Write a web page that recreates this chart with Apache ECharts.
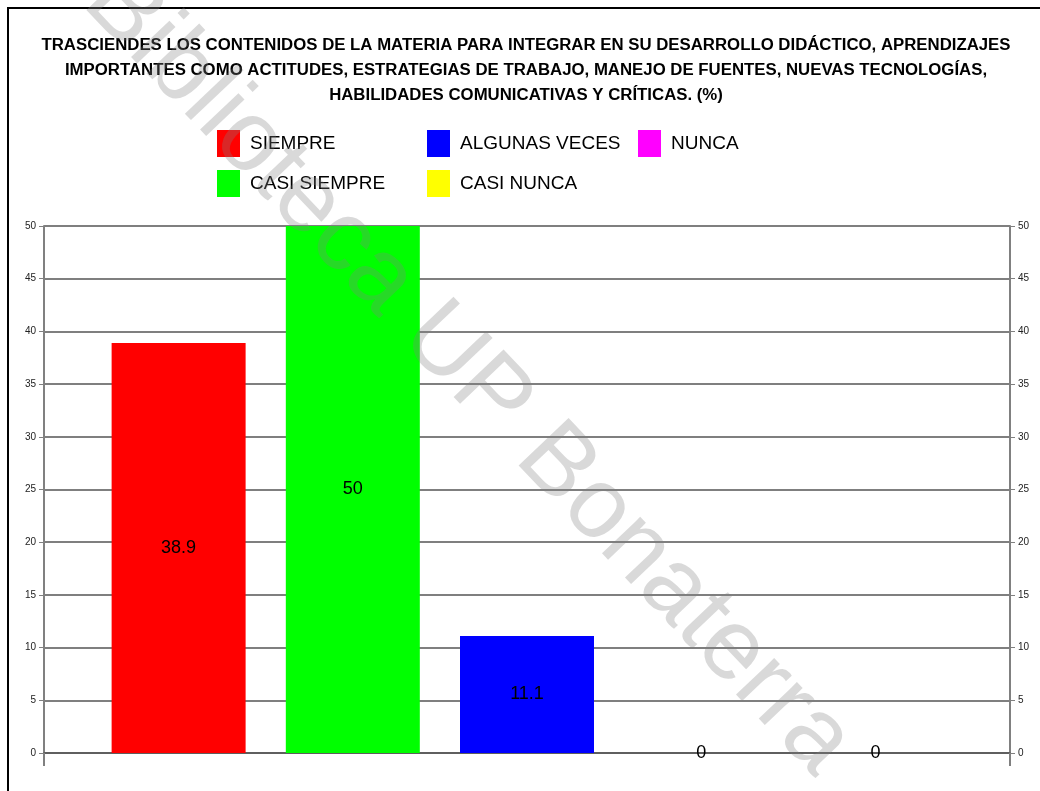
<!DOCTYPE html>
<html>
<head>
<meta charset="utf-8">
<script src="https://cdn.jsdelivr.net/npm/echarts@6/dist/echarts.min.js"></script>
<style>
  html, body { margin: 0; padding: 0; background: #fff; }
  #chart-target { width: 1040px; height: 791px; }
</style>
</head>
<body>
<div id="chart-target"></div>
<script>
  // datos del gráfico
  const categories = ['']
  const seriesNames = ['SIEMPRE', 'CASI SIEMPRE', 'ALGUNAS VECES', 'CASI NUNCA', 'NUNCA']
  const values = [38.9, 50, 11.1, 0, 0]
  const colors = ['#ff0000', '#00ff00', '#0000ff', '#ffff00', '#ff00ff']
  const yTicks = { min: 0, max: 50, interval: 5 }

  const font = 'Liberation Sans, Arial, sans-serif'

  // posiciones de la leyenda (2 filas, 3 columnas)
  const legendPos = [
    { left: 217, top: 130 },
    { left: 217, top: 170 },
    { left: 427, top: 130 },
    { left: 427, top: 170 },
    { left: 638, top: 130 }
  ]

  let myChart = echarts.init(document.getElementById('chart-target'))

  const yAxisBase = {
    type: 'value',
    min: yTicks.min,
    max: yTicks.max,
    interval: yTicks.interval,
    axisLine: { show: true, lineStyle: { color: '#808080', width: 2 } },
    axisTick: { show: true, length: 5, lineStyle: { color: '#808080' } },
    axisLabel: { fontFamily: font, fontSize: 10, color: '#222', margin: 8 }
  }

  myChart.setOption({
    animation: false,
    backgroundColor: '#fff',
    title: {
      text: 'TRASCIENDES LOS CONTENIDOS DE LA MATERIA PARA INTEGRAR EN SU DESARROLLO DIDÁCTICO, APRENDIZAJES\nIMPORTANTES COMO ACTITUDES, ESTRATEGIAS DE TRABAJO, MANEJO DE FUENTES, NUEVAS TECNOLOGÍAS,\nHABILIDADES COMUNICATIVAS Y CRÍTICAS. (%)',
      left: 526,
      textAlign: 'center',
      top: 33,
      padding: 0,
      textStyle: {
        fontFamily: font,
        fontSize: 16.8,
        fontWeight: 'bold',
        color: '#000',
        lineHeight: 25,
        align: 'center'
      }
    },
    legend: seriesNames.map((name, i) => ({
      data: [name],
      left: legendPos[i].left,
      top: legendPos[i].top,
      padding: 0,
      icon: 'rect',
      itemWidth: 23,
      itemHeight: 27,
      selectedMode: false,
      textStyle: { fontFamily: font, fontSize: 19, color: '#000', padding: [0, 0, 0, 5] }
    })),
    grid: { left: 44, right: 30, top: 226, bottom: 38 },
    xAxis: {
      type: 'category',
      data: categories,
      axisLine: { show: true, lineStyle: { color: '#555', width: 1.5 } },
      axisTick: { show: true, length: 13, interval: 0, lineStyle: { color: '#808080', width: 2 } },
      axisLabel: { show: false }
    },
    yAxis: [
      Object.assign({}, yAxisBase, {
        position: 'left',
        splitLine: { show: true, lineStyle: { color: '#555', width: 1.5 } }
      }),
      Object.assign({}, yAxisBase, {
        position: 'right',
        splitLine: { show: false }
      })
    ],
    series: seriesNames.map((name, i) => ({
      name: name,
      type: 'bar',
      data: [values[i]],
      barGap: '30%',
      barCategoryGap: '14%',
      itemStyle: { color: colors[i] },
      label: {
        show: true,
        position: 'inside',
        fontFamily: font,
        fontSize: 18,
        color: '#000'
      }
    })),
    graphic: [
      {
        type: 'rect',
        shape: { x: 8, y: 8, width: 1100, height: 900 },
        style: { fill: 'none', stroke: '#000', lineWidth: 2 },
        silent: true,
        z: 100
      },
      {
        type: 'text',
        x: 468,
        y: 372,
        rotation: -46.5 * Math.PI / 180,
        style: {
          text: 'Biblioteca UP Bonaterra',
          fontFamily: font,
          fontSize: 100,
          fill: 'rgba(128,128,128,0.3)',
          align: 'center',
          verticalAlign: 'middle'
        },
        silent: true,
        z: 200
      }
    ]
  })
</script>
</body>
</html>
